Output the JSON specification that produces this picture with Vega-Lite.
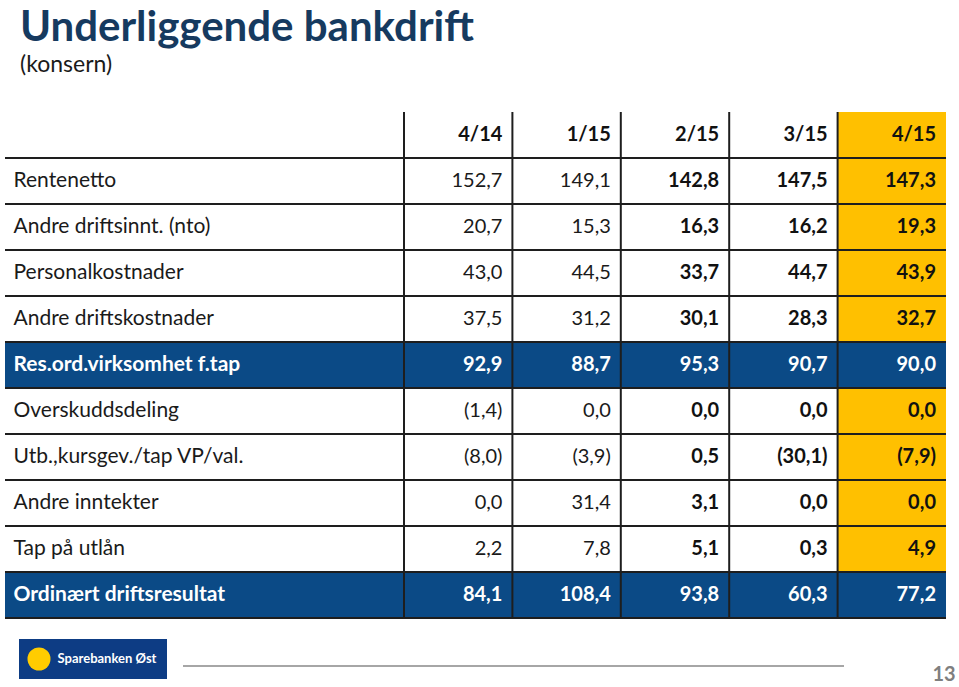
{
  "$schema": "https://vega.github.io/schema/vega-lite/v6.json",
  "padding": {"left": 4, "top": 7, "right": 0, "bottom": 0},
  "background": "white",
  "config": {
    "view": {"stroke": null},
    "font": "Lato",
    "locale": {"number": {"decimal": ",", "thousands": " ", "grouping": [3], "currency": ["", " kr"]}}
  },
  "title": {
    "text": "Underliggende bankdrift",
    "subtitle": "(konsern)",
    "anchor": "start",
    "frame": "bounds",
    "dx": 16,
    "fontSize": 42,
    "fontWeight": "bold",
    "font": "Lato",
    "color": "#163A5F",
    "subtitleFont": "Lato",
    "subtitleFontSize": 23,
    "subtitleColor": "#1a1a1a",
    "subtitlePadding": 4,
    "offset": 33
  },
  "datasets": {
    "poster": [
      {"post": "Rentenetto", "type": "linje", "4/14": 152.7, "1/15": 149.1, "2/15": 142.8, "3/15": 147.5, "4/15": 147.3},
      {"post": "Andre driftsinnt. (nto)", "type": "linje", "4/14": 20.7, "1/15": 15.3, "2/15": 16.3, "3/15": 16.2, "4/15": 19.3},
      {"post": "Personalkostnader", "type": "linje", "4/14": 43.0, "1/15": 44.5, "2/15": 33.7, "3/15": 44.7, "4/15": 43.9},
      {"post": "Andre driftskostnader", "type": "linje", "4/14": 37.5, "1/15": 31.2, "2/15": 30.1, "3/15": 28.3, "4/15": 32.7},
      {"post": "Res.ord.virksomhet f.tap", "type": "sum", "4/14": 92.9, "1/15": 88.7, "2/15": 95.3, "3/15": 90.7, "4/15": 90.0},
      {"post": "Overskuddsdeling", "type": "linje", "4/14": -1.4, "1/15": 0.0, "2/15": 0.0, "3/15": 0.0, "4/15": 0.0},
      {"post": "Utb.,kursgev./tap VP/val.", "type": "linje", "4/14": -8.0, "1/15": -3.9, "2/15": 0.5, "3/15": -30.1, "4/15": -7.9},
      {"post": "Andre inntekter", "type": "linje", "4/14": 0.0, "1/15": 31.4, "2/15": 3.1, "3/15": 0.0, "4/15": 0.0},
      {"post": "Tap på utlån", "type": "linje", "4/14": 2.2, "1/15": 7.8, "2/15": 5.1, "3/15": 0.3, "4/15": 4.9},
      {"post": "Ordinært driftsresultat", "type": "sum", "4/14": 84.1, "1/15": 108.4, "2/15": 93.8, "3/15": 60.3, "4/15": 77.2}
    ],
    "kvartaler": [
      {"kvartal": "4/14"}, {"kvartal": "1/15"}, {"kvartal": "2/15"}, {"kvartal": "3/15"}, {"kvartal": "4/15"}
    ]
  },
  "spacing": 20,
  "vconcat": [
    {
      "width": 941,
      "height": 506,
      "resolve": {"scale": {"x": "shared", "y": "shared"}},
      "layer": [
        {
          "data": {"name": "poster"},
          "transform": [{"filter": "datum.type == 'sum'"}],
          "mark": {"type": "rect", "color": "#0B4A86"},
          "encoding": {
            "y": {
              "field": "post", "type": "nominal",
              "scale": {
                "domain": ["Kvartal", "Rentenetto", "Andre driftsinnt. (nto)", "Personalkostnader", "Andre driftskostnader", "Res.ord.virksomhet f.tap", "Overskuddsdeling", "Utb.,kursgev./tap VP/val.", "Andre inntekter", "Tap på utlån", "Ordinært driftsresultat"],
                "paddingInner": 0, "paddingOuter": 0
              },
              "axis": {
                "orient": "left", "title": null, "domain": false, "ticks": false, "grid": false,
                "zindex": 2,
                "labelAlign": "left", "labelPadding": -8, "labelFont": "Lato", "labelFontSize": 21, "labelLimit": 400,
                "labelExpr": "datum.value == 'Kvartal' ? '' : datum.value",
                "labelColor": {"condition": {"test": "datum.value == 'Res.ord.virksomhet f.tap' || datum.value == 'Ordinært driftsresultat'", "value": "white"}, "value": "#1a1a1a"},
                "labelFontWeight": {"condition": {"test": "datum.value == 'Res.ord.virksomhet f.tap' || datum.value == 'Ordinært driftsresultat'", "value": "bold"}, "value": "normal"}
              }
            }
          }
        },
        {
          "data": {"name": "poster"},
          "transform": [
            {"filter": "datum.type != 'sum'"},
            {"fold": ["4/15"], "as": ["kvartal", "verdi"]}
          ],
          "mark": {"type": "rect", "color": "#FFC000"},
          "encoding": {
            "x": {"field": "kvartal", "type": "nominal", "scale": {"domain": ["4/14", "1/15", "2/15", "3/15", "4/15"], "range": [399, 941], "paddingInner": 0, "paddingOuter": 0}, "axis": null},
            "y": {"field": "post", "type": "nominal"}
          }
        },
        {
          "data": {"name": "kvartaler"},
          "transform": [{"filter": "datum.kvartal == '4/15'"}],
          "mark": {"type": "rect", "color": "#FFC000"},
          "encoding": {
            "x": {"field": "kvartal", "type": "nominal"},
            "y": {"datum": "Kvartal", "type": "nominal"}
          }
        },
        {
          "data": {"name": "poster"},
          "mark": {"type": "rule", "color": "#1e1e1e", "strokeWidth": 2},
          "encoding": {
            "y": {"field": "post", "type": "nominal", "bandPosition": 1}
          }
        },
        {
          "data": {"name": "kvartaler"},
          "transform": [{"filter": "datum.kvartal == '4/14'"}],
          "mark": {"type": "rule", "color": "#1e1e1e", "strokeWidth": 2},
          "encoding": {
            "y": {"datum": "Kvartal", "type": "nominal", "bandPosition": 1}
          }
        },
        {
          "data": {"name": "kvartaler"},
          "mark": {"type": "rule", "color": "#1e1e1e", "strokeWidth": 2},
          "encoding": {
            "x": {"field": "kvartal", "type": "nominal", "bandPosition": 0}
          }
        },
        {
          "data": {"name": "poster"},
          "transform": [
            {"filter": "datum.type == 'linje'"},
            {"fold": ["4/14", "1/15"], "as": ["kvartal", "verdi"]}
          ],
          "mark": {"type": "text", "align": "right", "baseline": "middle", "dx": -10, "fontSize": 20, "font": "Lato", "color": "#1a1a1a"},
          "encoding": {
            "x": {"field": "kvartal", "type": "nominal", "bandPosition": 1},
            "y": {"field": "post", "type": "nominal"},
            "text": {"field": "verdi", "type": "quantitative", "format": "(.1f"}
          }
        },
        {
          "data": {"name": "poster"},
          "transform": [
            {"filter": "datum.type == 'linje'"},
            {"fold": ["2/15", "3/15", "4/15"], "as": ["kvartal", "verdi"]}
          ],
          "mark": {"type": "text", "align": "right", "baseline": "middle", "dx": -10, "fontSize": 20, "font": "Lato", "fontWeight": "bold", "color": "#111111"},
          "encoding": {
            "x": {"field": "kvartal", "type": "nominal", "bandPosition": 1},
            "y": {"field": "post", "type": "nominal"},
            "text": {"field": "verdi", "type": "quantitative", "format": "(.1f"}
          }
        },
        {
          "data": {"name": "poster"},
          "transform": [
            {"filter": "datum.type == 'sum'"},
            {"fold": ["4/14", "1/15", "2/15", "3/15", "4/15"], "as": ["kvartal", "verdi"]}
          ],
          "mark": {"type": "text", "align": "right", "baseline": "middle", "dx": -10, "fontSize": 20, "font": "Lato", "fontWeight": "bold", "color": "white"},
          "encoding": {
            "x": {"field": "kvartal", "type": "nominal", "bandPosition": 1},
            "y": {"field": "post", "type": "nominal"},
            "text": {"field": "verdi", "type": "quantitative", "format": "(.1f"}
          }
        },
        {
          "data": {"name": "kvartaler"},
          "mark": {"type": "text", "align": "right", "baseline": "middle", "dx": -10, "fontSize": 20, "font": "Lato", "fontWeight": "bold", "color": "#111111"},
          "encoding": {
            "x": {"field": "kvartal", "type": "nominal", "bandPosition": 1},
            "y": {"datum": "Kvartal", "type": "nominal"},
            "text": {"field": "kvartal", "type": "nominal"}
          }
        }
      ]
    },
    {
      "spacing": 0,
      "hconcat": [
        {"width": 14, "height": 40, "data": {"values": []}, "mark": "text", "encoding": {}},
        {
          "width": 148, "height": 40,
          "view": {"fill": "#0d3c84"},
          "data": {"values": [{"navn": "Sparebanken Øst"}]},
          "layer": [
            {"mark": {"type": "point", "filled": true, "size": 530, "color": "#FFCC00", "opacity": 1}, "encoding": {"xOffset": {"value": -54}}},
            {"mark": {"type": "text", "color": "white", "fontSize": 13, "dx": 14, "font": "Lato", "fontWeight": "bold"}, "encoding": {"text": {"field": "navn"}}}
          ]
        },
        {"width": 15, "height": 40, "data": {"values": []}, "mark": "text", "encoding": {}},
        {
          "width": 661, "height": 27,
          "data": {"values": [{"linje": 1}]},
          "mark": {"type": "rule", "color": "#a6a6a6", "strokeWidth": 2},
          "encoding": {"y": {"value": "height"}}
        },
        {"width": 84, "height": 40, "data": {"values": []}, "mark": "text", "encoding": {}},
        {
          "width": 30, "height": 42,
          "data": {"values": [{"side": "13"}]},
          "mark": {"type": "text", "color": "#7f7f7f", "fontSize": 20, "fontWeight": "bold", "font": "Lato", "baseline": "alphabetic"},
          "encoding": {"text": {"field": "side"}, "y": {"value": "height"}}
        }
      ]
    }
  ]
}
